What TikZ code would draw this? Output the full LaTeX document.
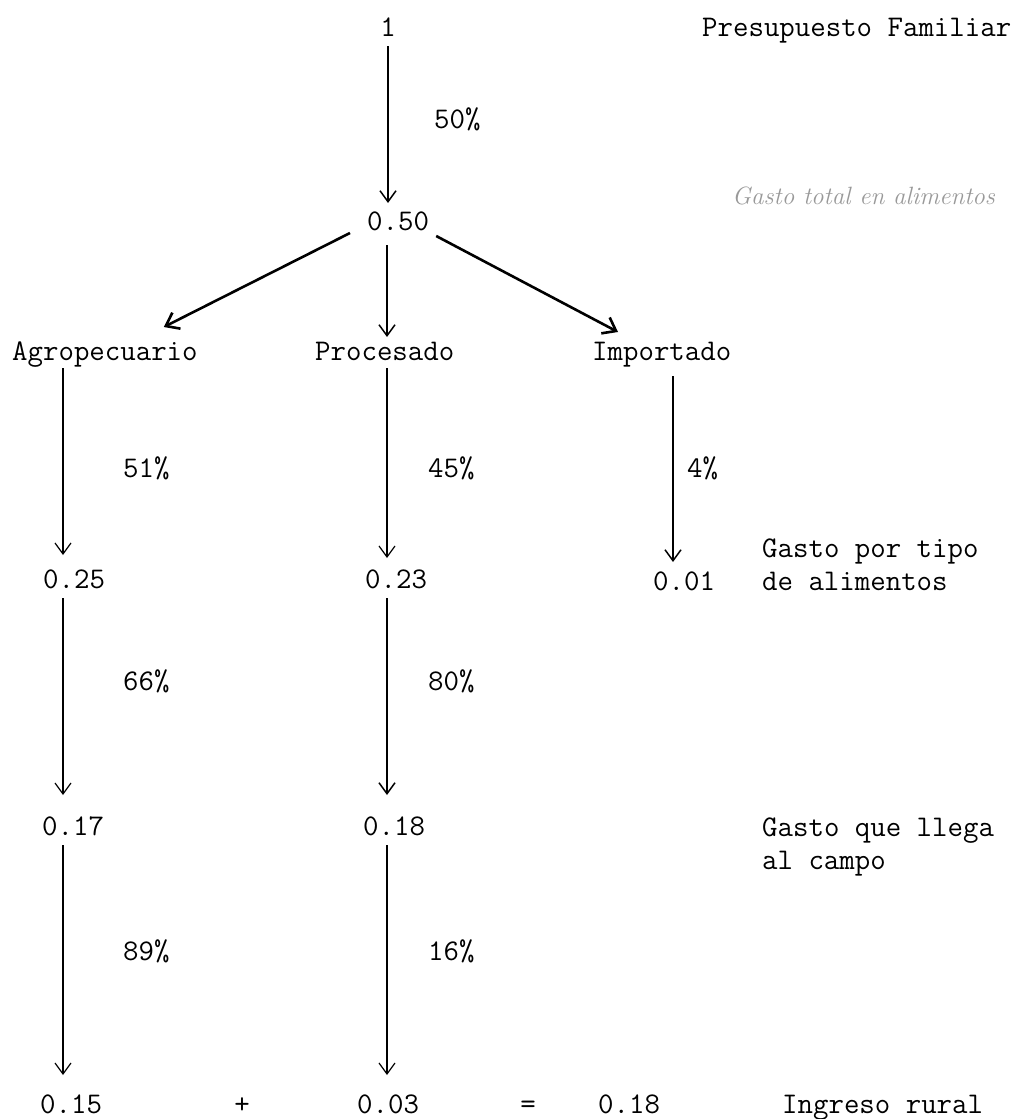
\documentclass[tikz,border=0pt]{standalone}
\usepackage{fontspec}
\usetikzlibrary{arrows.meta,calc}
\begin{document}
\begin{tikzpicture}[x=1pt,y=-1pt,
  txt/.style={inner sep=0pt,anchor=base west,font=\fontsize{30}{36}\selectfont\ttfamily},
  ctxt/.style={txt,anchor=base},
  arr/.style={-{Straight Barb[length=11pt,width=16pt]},line width=1.2pt,black},
  thickarr/.style={-{Straight Barb[length=12pt,width=18pt]},line width=2.6pt,black},
  hand/.style={inner sep=0pt,anchor=base west,text=black!40,font=\fontsize{25}{30}\selectfont\itshape}]
\useasboundingbox (0,0) rectangle (1035,1119);
\fill[white] (0,0) rectangle (1035,1119);
% column coordinates
\coordinate (cT) at (388,0);
\coordinate (cA) at (63,0);
\coordinate (cP) at (387,0);
\coordinate (cI) at (673,0);
% texts
\node[ctxt] (n1) at (388,36) {1};
\node[txt] (pres) at (702,36) {Presupuesto Familiar};
\node[txt] (p50) at (434,128) {50\%};
\node[txt] (n050) at (367,230) {0.50};
\node[hand] (hnote) at (732,204) {Gasto total en alimentos};
\node[txt] (agro) at (12,360) {Agropecuario};
\node[txt] (proc) at (315,360) {Procesado};
\node[txt] (imp) at (592,360) {Importado};
\node[txt] (p51) at (123,477) {51\%};
\node[txt] (p45) at (428,477) {45\%};
\node[txt] (p4) at (687,477) {4\%};
\node[txt] (v25) at (43,588) {0.25};
\node[txt] (v23) at (365,588) {0.23};
\node[txt] (v01) at (653,590) {0.01};
\node[txt] (gpt) at (762,557) {Gasto por tipo};
\node[txt] (dea) at (762,590) {de alimentos};
\node[txt] (p66) at (123,690) {66\%};
\node[txt] (p80) at (428,690) {80\%};
\node[txt] (v17) at (42,835) {0.17};
\node[txt] (v18) at (363,835) {0.18};
\node[txt] (gql) at (762,836) {Gasto que llega};
\node[txt] (alc) at (762,869) {al campo};
\node[txt] (p89) at (123,960) {89\%};
\node[txt] (p16) at (428,960) {16\%};
\node[txt] (r15) at (40,1113) {0.15};
\node[ctxt] (plus) at (242,1113) {+};
\node[txt] (r03) at (357,1113) {0.03};
\node[ctxt] (eq) at (528,1113) {=};
\node[txt] (r18) at (598,1113) {0.18};
\node[txt] (ing) at (782,1113) {Ingreso rural};
% connectors
\draw[arr,line width=1.5pt] ($(n1.base -| cT)+(0,10)$) -- ($(n050.base -| cT)+(0,-27)$);
\draw[thickarr] ($(n050.base west)+(-17,3)$) -- ($(agro.base east)+(-34,-33)$);
\draw[arr,line width=1.5pt] ($(n050.base -| cP)+(0,15)$) -- ($(proc.base -| cP)+(0,-23)$);
\draw[thickarr] ($(n050.base east)+(7,6)$) -- ($(imp.base west)+(26,-28)$);
\draw[arr] ($(agro.base -| cA)+(0,8)$) -- ($(v25.base -| cA)+(0,-33)$);
\draw[arr] ($(proc.base -| cP)+(0,8)$) -- ($(v23.base -| cP)+(0,-30)$);
\draw[arr,line width=1.5pt] ($(imp.base -| cI)+(0,16)$) -- ($(v01.base -| cI)+(0,-28)$);
\draw[arr] ($(v25.base -| cA)+(0,10)$) -- ($(v17.base -| cA)+(0,-40)$);
\draw[arr,line width=1.5pt] ($(v23.base -| cP)+(0,10)$) -- ($(v18.base -| cP)+(0,-40)$);
\draw[arr] ($(v17.base -| cA)+(0,10)$) -- ($(r15.base -| cA)+(0,-38)$);
\draw[arr] ($(v18.base -| cP)+(0,10)$) -- ($(r03.base -| cP)+(0,-38)$);
\end{tikzpicture}
\end{document}
